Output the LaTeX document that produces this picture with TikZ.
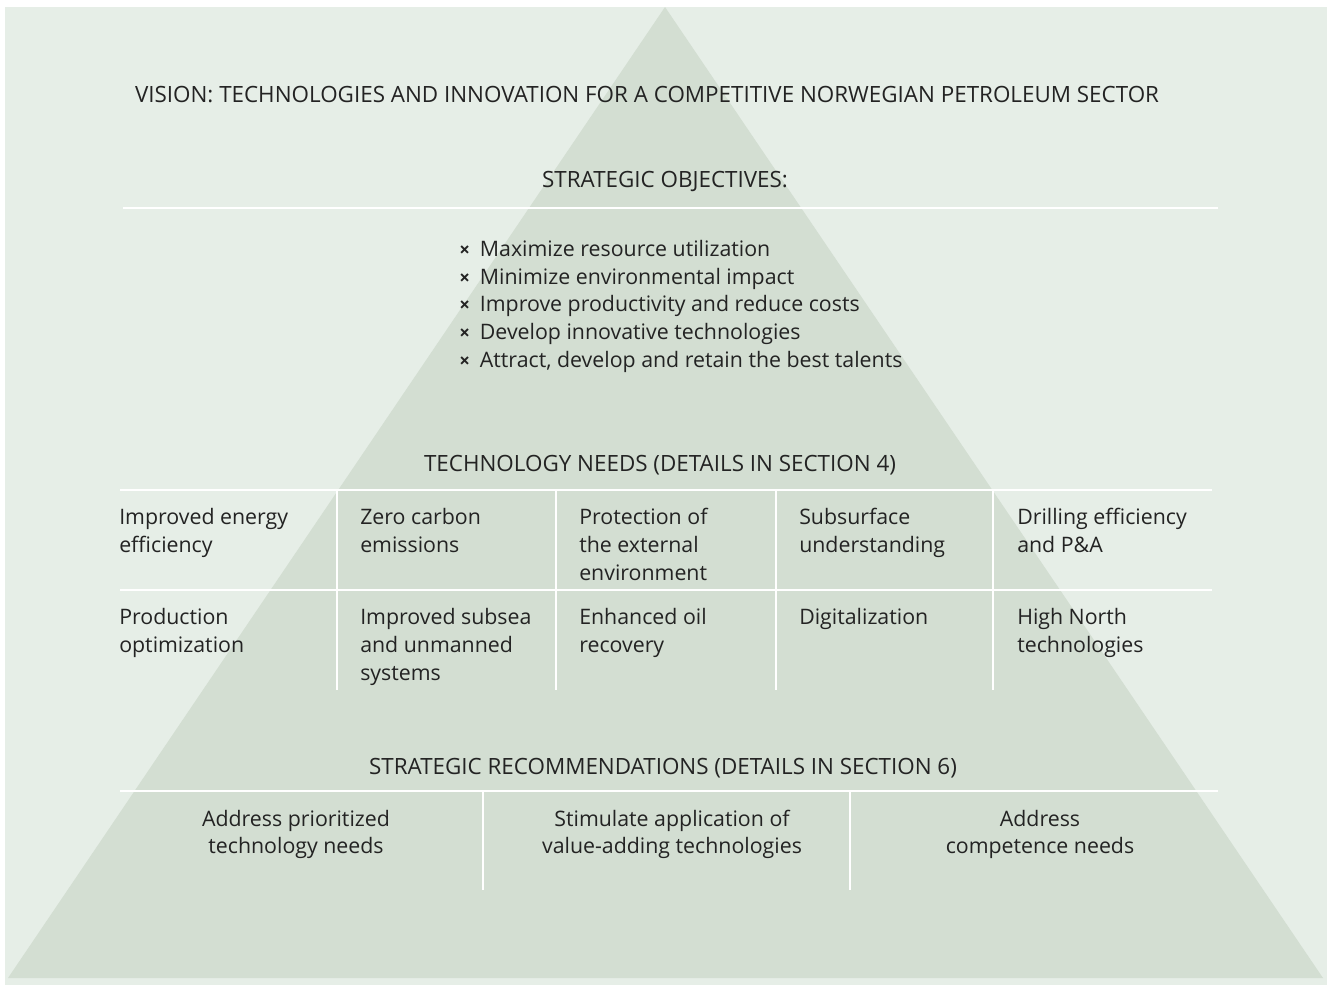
\documentclass[tikz,border=0pt]{standalone}
\usepackage{fontspec}
\setmainfont{Open Sans}
\definecolor{bgc}{HTML}{E6EEE7}
\definecolor{trc}{HTML}{D3DED2}
\definecolor{txc}{HTML}{232323}
\tikzset{
  sep/.style={draw=white, line width=1.1pt},
  head/.style={font=\fontsize{16.8}{20}\selectfont, text=txc, inner sep=0},
  cell/.style={font=\fontsize{16}{21}\selectfont, text=txc, inner sep=0, anchor=north west, align=left},
  rec/.style={font=\fontsize{16}{20.5}\selectfont, text=txc, inner sep=0, anchor=north, align=center},
  blist/.style={font=\fontsize{16}{20.8}\selectfont, text=txc, inner sep=0, anchor=north west, align=left}
}
\newcommand{\bx}{{\fontsize{14}{14}\selectfont\bfseries ×}\hspace{7.5pt}}
\begin{document}
\begin{tikzpicture}[x=0.75pt,y=-0.75pt]
\useasboundingbox (0,0) rectangle (1327,985);
\fill[white] (0,0) rectangle (1327,985);
\fill[bgc] (5,7) rectangle (1327,985);
\fill[trc] (665,7) -- (1323,978) -- (8,978) -- cycle;
% lines
\coordinate (o1) at (123,208); \coordinate (o2) at (1218,208);
\draw[sep] (o1) -- (o2);
\coordinate (t1) at (120,490); \coordinate (t2) at (1212,490);
\coordinate (t3) at (120,590); \coordinate (t4) at (1212,590);
\draw[sep] (t1) -- (t2);
\draw[sep] (t3) -- (t4);
\foreach \x in {337,556,776,993} {\draw[sep] (\x,490) -- (\x,690);}
\coordinate (r1) at (120,791); \coordinate (r2) at (1218,791);
\draw[sep] (r1) -- (r2);
\foreach \x in {483,850} {\draw[sep] (\x,791) -- (\x,890);}
% headings
\node[head] (vision) at (647,95) {VISION: TECHNOLOGIES AND INNOVATION FOR A COMPETITIVE NORWEGIAN PETROLEUM SECTOR};
\node[head] (so) at (665,181) {STRATEGIC OBJECTIVES:};
\node[blist] (bl) at (459,240) {\bx Maximize resource utilization\\ \bx Minimize environmental impact\\ \bx Improve productivity and reduce costs\\ \bx Develop innovative technologies\\ \bx Attract, develop and retain the best talents};
\node[head] (tn) at (660,465) {TECHNOLOGY NEEDS (DETAILS IN SECTION 4)};
% cells
\node[cell] (c11) at (119,508) {Improved energy\\efficiency};
\node[cell] (c12) at (360,508) {Zero carbon\\emissions};
\node[cell] (c13) at (579,508) {Protection of\\the external\\environment};
\node[cell] (c14) at (799,508) {Subsurface\\understanding};
\node[cell] (c15) at (1017,508) {Drilling efficiency\\and P\&A};
\node[cell] (c21) at (119,608) {Production\\optimization};
\node[cell] (c22) at (360,608) {Improved subsea\\and unmanned\\systems};
\node[cell] (c23) at (579,608) {Enhanced oil\\recovery};
\node[cell] (c24) at (799,608) {Digitalization};
\node[cell] (c25) at (1017,608) {High North\\technologies};
\node[head] (sr) at (663,768) {STRATEGIC RECOMMENDATIONS (DETAILS IN SECTION 6)};
\node[rec] (r1t) at (296,810) {Address prioritized\\technology needs};
\node[rec] (r2t) at (672,810) {Stimulate application of\\value-adding technologies};
\node[rec] (r3t) at (1040,810) {Address\\competence needs};
\end{tikzpicture}
\end{document}
